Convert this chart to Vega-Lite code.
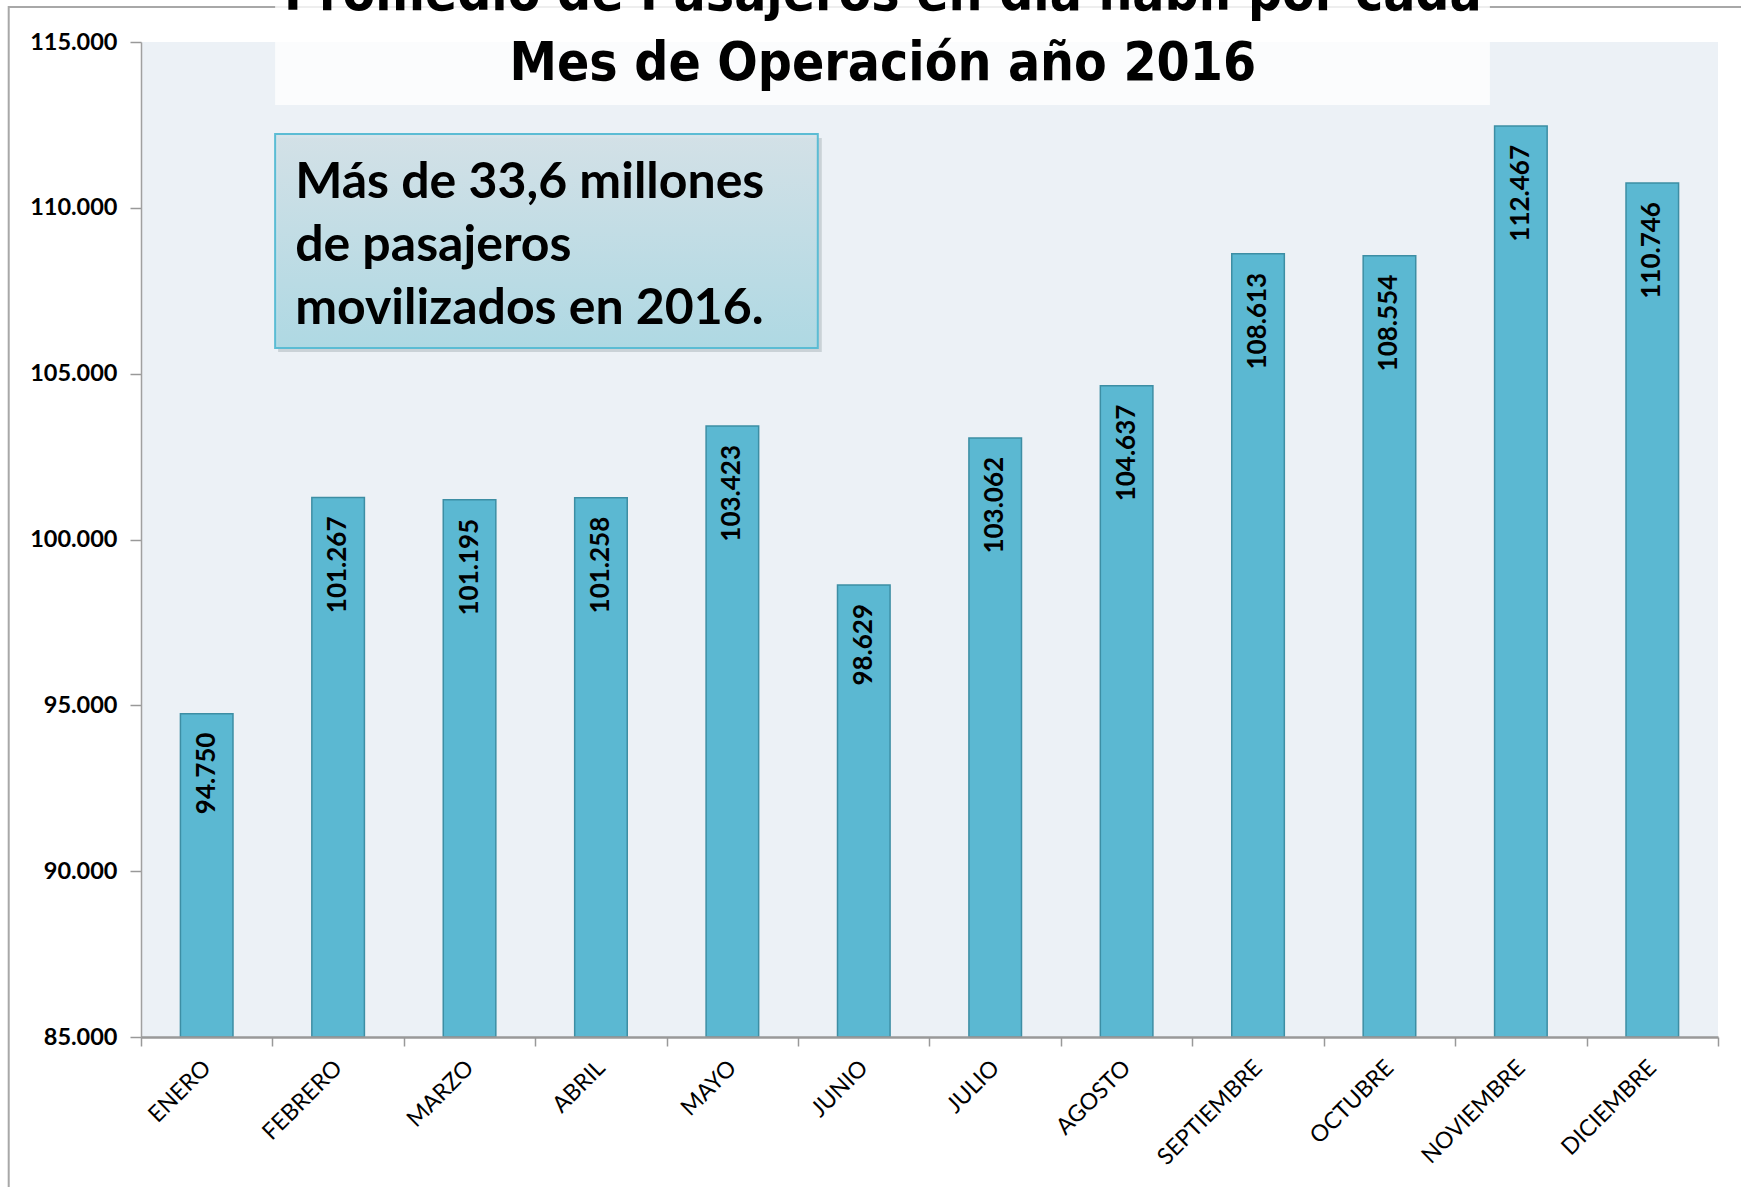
{
  "$schema": "https://vega.github.io/schema/vega-lite/v6.json",
  "autosize": "none",
  "width": 1577,
  "height": 995,
  "padding": {"left": 141, "top": 42, "right": 23, "bottom": 150},
  "background": "white",
  "config": {
    "locale": {"number": {"decimal": ",", "thousands": ".", "grouping": [3], "currency": ["$", ""]}},
    "view": {"fill": "#ecf1f6", "stroke": null}
  },
  "data": {
    "values": [
      {"mes": "ENERO", "pasajeros": 94750},
      {"mes": "FEBRERO", "pasajeros": 101267},
      {"mes": "MARZO", "pasajeros": 101195},
      {"mes": "ABRIL", "pasajeros": 101258},
      {"mes": "MAYO", "pasajeros": 103423},
      {"mes": "JUNIO", "pasajeros": 98629},
      {"mes": "JULIO", "pasajeros": 103062},
      {"mes": "AGOSTO", "pasajeros": 104637},
      {"mes": "SEPTIEMBRE", "pasajeros": 108613},
      {"mes": "OCTUBRE", "pasajeros": 108554},
      {"mes": "NOVIEMBRE", "pasajeros": 112467},
      {"mes": "DICIEMBRE", "pasajeros": 110746}
    ]
  },
  "layer": [
    {
      "data": {"values": [{"marco": "borde"}]},
      "mark": {"type": "rect", "filled": false, "stroke": "#a8a8a8", "strokeWidth": 2, "xOffset": -198, "x2Offset": 200, "y2Offset": 300},
      "encoding": {
        "x": {"datum": "ENERO"},
        "x2": {"datum": "DICIEMBRE"},
        "y": {"datum": 116055},
        "y2": {"datum": 85000}
      }
    },
    {
      "mark": {"type": "bar", "fill": "#5bb8d2", "stroke": "#3d8ea4", "strokeWidth": 1.5, "width": {"band": 0.4}},
      "encoding": {
        "x": {
          "field": "mes", "type": "nominal", "sort": null,
          "scale": {"paddingInner": 0, "paddingOuter": 0,
                    "domain": ["ENERO", "FEBRERO", "MARZO", "ABRIL", "MAYO", "JUNIO", "JULIO", "AGOSTO", "SEPTIEMBRE", "OCTUBRE", "NOVIEMBRE", "DICIEMBRE"]},
          "axis": {
            "title": null, "labelAngle": -45, "labelFont": "Lato", "labelFontSize": 23,
            "labelFontWeight": "normal", "labelColor": "#000000", "labelPadding": 18,
            "tickBand": "extent", "tickSize": 9, "tickColor": "#999999", "tickWidth": 1.5,
            "domainColor": "#999999", "domainWidth": 2.5, "grid": false
          }
        },
        "y": {
          "field": "pasajeros", "type": "quantitative",
          "scale": {"domain": [85000, 115000], "nice": false, "zero": false},
          "axis": {
            "title": null, "values": [85000, 90000, 95000, 100000, 105000, 110000, 115000],
            "format": ",.0f", "labelFont": "Lato", "labelFontWeight": "bold", "labelFontSize": 23.5,
            "labelColor": "#000000", "labelPadding": 13, "tickSize": 11, "tickColor": "#999999",
            "tickWidth": 1.5, "domainColor": "#a0a0a0", "domainWidth": 1.5,
            "gridColor": "#8e8e8e", "gridWidth": 1.5
          }
        },
        "y2": {"datum": 85000}
      }
    },
    {
      "mark": {"type": "text", "angle": 270, "align": "right", "baseline": "middle", "dx": -19,
               "font": "Lato", "fontWeight": "bold", "fontSize": 26, "color": "#000000"},
      "encoding": {
        "x": {"field": "mes", "type": "nominal", "sort": null},
        "y": {"field": "pasajeros", "type": "quantitative"},
        "text": {"field": "pasajeros", "type": "quantitative", "format": ",.0f"}
      }
    },
    {
      "data": {"values": [{"caja": "titulo"}]},
      "mark": {"type": "rect", "fill": "#ffffff", "fillOpacity": 0.8, "xOffset": -63, "x2Offset": -31},
      "encoding": {
        "x": {"datum": "FEBRERO"},
        "x2": {"datum": "NOVIEMBRE"},
        "y": {"datum": 116400},
        "y2": {"datum": 113100}
      }
    },
    {
      "data": {"values": [{"titulo": ["Promedio de Pasajeros en día hábil por cada", "Mes de Operación año 2016"]}]},
      "mark": {"type": "text", "align": "center", "baseline": "alphabetic", "dx": 19,
               "font": "DejaVu Sans Condensed", "fontWeight": "bold", "fontSize": 53,
               "lineHeight": 70, "color": "#000000"},
      "encoding": {
        "x": {"datum": "JUNIO"},
        "y": {"datum": 115965},
        "text": {"field": "titulo"}
      }
    },
    {
      "data": {"values": [{"caja": "sombra"}]},
      "mark": {"type": "rect", "fill": "#7a8a90", "fillOpacity": 0.3, "xOffset": -60, "x2Offset": -42, "yOffset": 4, "y2Offset": 4},
      "encoding": {
        "x": {"datum": "FEBRERO"},
        "x2": {"datum": "JUNIO"},
        "y": {"datum": 112226},
        "y2": {"datum": 105774}
      }
    },
    {
      "data": {"values": [{"caja": "nota"}]},
      "mark": {
        "type": "rect", "xOffset": -63, "x2Offset": -46, "stroke": "#5bbcd4", "strokeWidth": 2, "fillOpacity": 0.92,
        "fill": {"gradient": "linear", "x1": 0, "y1": 0, "x2": 0, "y2": 1,
                 "stops": [{"offset": 0, "color": "#d4e2e8"}, {"offset": 1, "color": "#acd9e4"}]}
      },
      "encoding": {
        "x": {"datum": "FEBRERO"},
        "x2": {"datum": "JUNIO"},
        "y": {"datum": 112226},
        "y2": {"datum": 105774}
      }
    },
    {
      "data": {"values": [{"nota": ["Más de 33,6 millones", "de pasajeros", "movilizados en 2016."]}]},
      "mark": {"type": "text", "align": "left", "baseline": "alphabetic", "dx": -43,
               "font": "Lato", "fontWeight": "bold", "fontSize": 50, "lineHeight": 63, "color": "#000000"},
      "encoding": {
        "x": {"datum": "FEBRERO"},
        "y": {"datum": 110296},
        "text": {"field": "nota"}
      }
    }
  ]
}
